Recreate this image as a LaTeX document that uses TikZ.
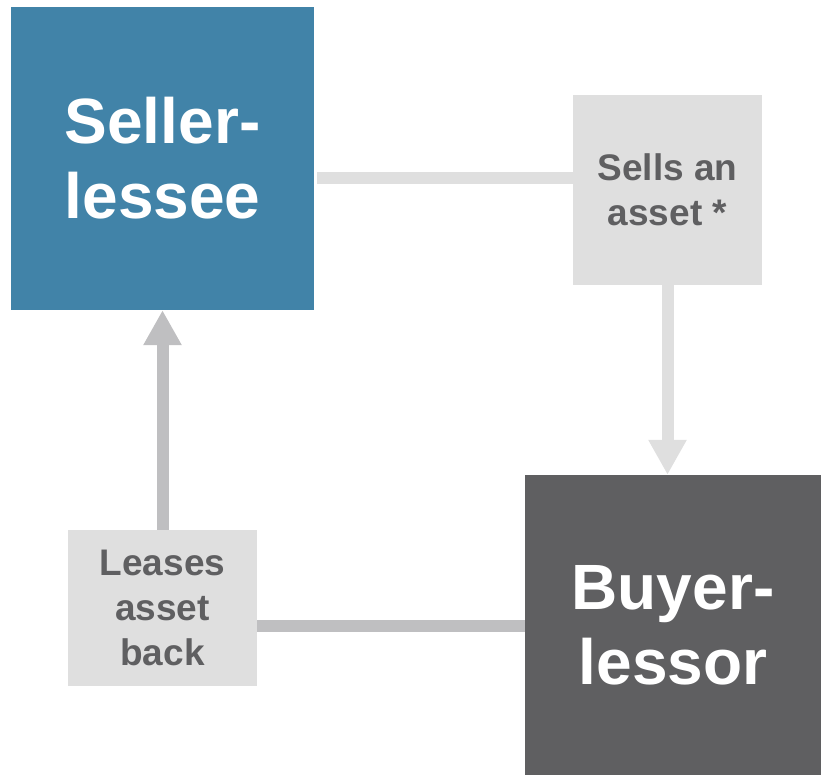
\documentclass[tikz,border=0pt]{standalone}
\usepackage{fontspec}
\setmainfont{Liberation Sans}
\usetikzlibrary{arrows.meta}
\definecolor{sellblue}{RGB}{65,131,168}
\definecolor{buygray}{RGB}{95,95,97}
\definecolor{stepgray}{RGB}{223,223,223}
\definecolor{linkgray}{RGB}{191,191,193}
\begin{document}
\begin{tikzpicture}[
  x=1pt, y=-1pt,
  party/.style={rectangle, inner sep=0pt, align=center, text=white,
    font=\bfseries\fontsize{64}{75}\selectfont},
  stepbox/.style={rectangle, fill=stepgray, inner sep=0pt, align=center,
    text=buygray, font=\bfseries\fontsize{37}{45}\selectfont},
  lightlink/.style={draw=stepgray, line width=12pt},
  darklink/.style={draw=linkgray, line width=12pt},
  bigtip/.style={-{Triangle[width=36pt,length=35pt]}}
]
\useasboundingbox (0,0) rectangle (821,775);

\node[party, fill=sellblue, minimum width=303pt, minimum height=303pt] (seller) at (162.5,158.5) {Seller-\\lessee};
\node[party, fill=buygray, minimum width=296pt, minimum height=300pt] (buyer) at (673,625) {Buyer-\\lessor};
\node[stepbox, minimum width=189pt, minimum height=190pt] (sells) at (667.5,190) {Sells an\\asset *};
\node[stepbox, minimum width=189pt, minimum height=156pt] (leases) at (162.5,608) {Leases\\asset\\back};

\coordinate (sellfrom) at ([xshift=3pt,yshift=-19.5pt]seller.east);
\coordinate (leasefrom) at ([yshift=-18pt]leases.east);

\draw[lightlink] (sellfrom) -- (sellfrom -| sells.west);
\draw[lightlink, bigtip] (sells.south) -- (sells.south |- buyer.north);
\draw[darklink] (leasefrom) -- (leasefrom -| buyer.west);
\draw[darklink, bigtip] (leases.north) -- (leases.north |- seller.south);

\end{tikzpicture}
\end{document}
